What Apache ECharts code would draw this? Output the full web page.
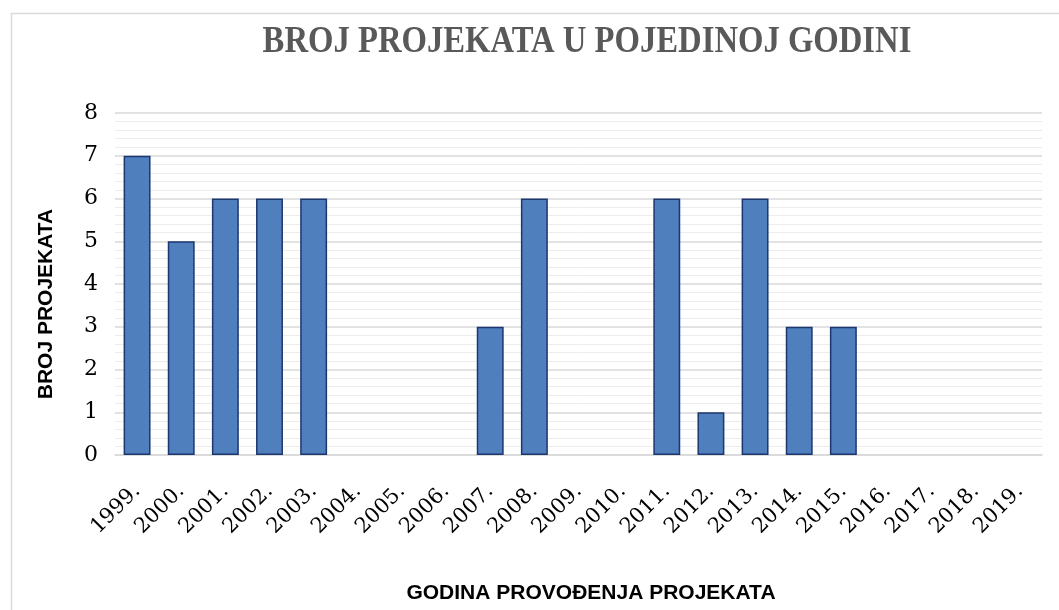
<!DOCTYPE html>
<html>
<head>
<meta charset="utf-8">
<script src="https://cdn.jsdelivr.net/npm/echarts@6/dist/echarts.min.js"></script>
<style>
html,body{margin:0;padding:0;background:#fff;}
#chart{width:1059px;height:610px;}
</style>
</head>
<body>
<div id="chart"></div>
<script>
const titleText = 'BROJ PROJEKATA U POJEDINOJ GODINI';
const xAxisName = 'GODINA PROVOĐENJA PROJEKATA';
const yAxisName = 'BROJ PROJEKATA';
const categories = ['1999.','2000.','2001.','2002.','2003.','2004.','2005.','2006.','2007.','2008.','2009.','2010.','2011.','2012.','2013.','2014.','2015.','2016.','2017.','2018.','2019.'];
const projectCounts = [7,5,6,6,6,null,null,null,3,6,null,null,6,1,6,3,3,null,null,null,null];
const yTicks = {min:0, max:8, interval:1};

const chart = echarts.init(document.getElementById('chart'), null, {renderer:'canvas'});
chart.setOption({
  backgroundColor:'#ffffff',
  animation:false,
  grid:{left:115, right:17, top:113, bottom:155, containLabel:false},
  graphic:[
    {type:'rect', left:9, top:11, shape:{x:0,y:0,width:1080,height:620}, style:{fill:'none', stroke:'#d9d9d9', lineWidth:1.5}, silent:true, z:-1},
    {type:'text', x:587, y:42, scaleX:0.86, originX:0, originY:0,
     style:{text:titleText, font:'bold 38px "Liberation Serif", serif', fill:'#595959', textAlign:'center', textVerticalAlign:'middle'}},
    {type:'text', x:591, y:593,
     style:{text:xAxisName, font:'bold 21px "Liberation Sans", sans-serif', fill:'#000', textAlign:'center', textVerticalAlign:'middle'}},
    {type:'text', x:46, y:304, rotation:Math.PI/2,
     style:{text:yAxisName, font:'bold 21px "Liberation Sans", sans-serif', fill:'#000', textAlign:'center', textVerticalAlign:'middle'}}
  ],
  xAxis:{
    type:'category',
    data:categories,
    axisLine:{show:true, lineStyle:{color:'#d9d9d9', width:1.5}},
    axisTick:{show:false},
    axisLabel:{rotate:45, margin:33, color:'#000', fontFamily:'"DejaVu Serif", serif', fontSize:21, interval:0}
  },
  yAxis:{
    type:'value',
    min:yTicks.min, max:yTicks.max, interval:yTicks.interval,
    axisLine:{show:false},
    axisTick:{show:false},
    axisLabel:{color:'#000', fontFamily:'"DejaVu Serif", serif', fontSize:22, margin:17},
    splitLine:{show:true, lineStyle:{color:'#d9d9d9', width:1.5}},
    minorTick:{show:false, splitNumber:5},
    minorSplitLine:{show:true, lineStyle:{color:'#ececec', width:1}}
  },
  series:[{
    type:'bar',
    data:projectCounts,
    barWidth:'61%',
    itemStyle:{color:'#4f7fbc', borderColor:'#1c3670', borderWidth:1.5}
  }]
});
</script>
</body>
</html>
